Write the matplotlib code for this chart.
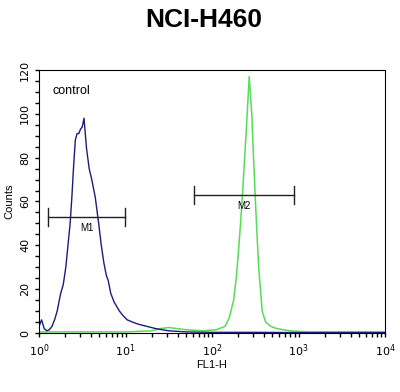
import matplotlib
matplotlib.use('Agg')
import matplotlib.pyplot as plt
from matplotlib.ticker import MultipleLocator, LogLocator, NullFormatter
import numpy as np

# control histogram (blue), log10 of FL1-H vs counts
ctrl_log = [0.0, 0.03, 0.06, 0.09, 0.12, 0.15, 0.18, 0.21, 0.25, 0.28, 0.31, 0.33,
            0.36, 0.38, 0.40, 0.42, 0.44, 0.46, 0.48, 0.50, 0.52, 0.55, 0.58, 0.61,
            0.65, 0.69, 0.72, 0.75, 0.78, 0.80, 0.83, 0.87, 0.90, 0.93, 0.97, 1.02,
            1.08, 1.15, 1.25, 1.35, 1.50, 1.70, 2.00, 2.50, 3.00, 4.00]
ctrl_counts = [3, 6, 2, 1, 1.5, 3, 6, 10, 18, 22, 30, 38,
               50, 62, 76, 88, 91, 91, 93, 94, 98, 84, 75, 70,
               62, 50, 40, 32, 26, 24, 18, 14, 12, 10, 8, 6,
               5, 4, 3, 2, 1, 0.5, 0.3, 0.3, 0.2, 0.2]

# NCI-H460 sample histogram (green)
samp_log = [0.0, 0.5, 1.0, 1.3, 1.4, 1.5, 1.6, 1.7, 1.9, 2.05, 2.15, 2.2, 2.25,
            2.28, 2.3, 2.33, 2.36, 2.38, 2.40, 2.43, 2.46, 2.48, 2.50, 2.52, 2.54,
            2.56, 2.58, 2.62, 2.68, 2.75, 2.9, 3.1, 4.0]
samp_counts = [0.5, 0.5, 0.5, 1, 2, 2.5, 2, 1.5, 1, 1.5, 3, 7, 15,
               25, 34, 50, 68, 82, 95, 117, 100, 80, 62, 45, 30,
               20, 10, 5, 3, 2, 1, 0.5, 0.5]

# gate markers: (name, low, high, level)
gates = [('M1', 1.27, 9.9, 53), ('M2', 62, 890, 63)]

fig = plt.figure(figsize=(4, 3.92), dpi=100)
ax = fig.add_axes([0.0975, 0.1505, 0.865, 0.671])

ax.plot(10 ** np.array(samp_log), samp_counts, color='#55dd55', lw=1.1)
ax.plot(10 ** np.array(ctrl_log), ctrl_counts, color='#1c1c7a', lw=1.0)

for name, lo, hi, lev in gates:
    ax.plot([lo, hi], [lev, lev], color='#222222', lw=1)
    ax.plot([lo, lo], [lev - 4, lev + 4], color='#222222', lw=1)
    ax.plot([hi, hi], [lev - 4, lev + 4], color='#222222', lw=1)
    ax.text(np.sqrt(lo * hi), lev - 3, name, ha='center', va='top',
            fontsize=7, family='Liberation Sans')

ax.set_xscale('log')
ax.set_xlim(1, 1e4)
ax.set_ylim(0, 120)
ax.xaxis.set_major_locator(LogLocator(base=10))
ax.xaxis.set_minor_locator(LogLocator(base=10, subs=np.arange(2, 10)))
ax.xaxis.set_minor_formatter(NullFormatter())
ax.yaxis.set_major_locator(MultipleLocator(20))
ax.yaxis.set_minor_locator(MultipleLocator(5))
ax.tick_params(axis='both', which='both', direction='out', length=3, width=1)
ax.tick_params(axis='both', labelsize=8)
for lbl in ax.get_yticklabels():
    lbl.set_rotation(90)
    lbl.set_va('center')

ax.set_xlabel('FL1-H', fontsize=8, family='Liberation Sans', labelpad=1)
ax.set_ylabel('Counts', fontsize=8, family='Liberation Sans', labelpad=4)
ax.text(0.04, 0.91, 'control', transform=ax.transAxes, fontsize=9,
        family='Liberation Sans')
fig.suptitle('NCI-H460', x=0.51, y=0.98, fontsize=19, fontweight='bold',
             family='Liberation Sans')

fig.savefig('out.png', dpi=100)
